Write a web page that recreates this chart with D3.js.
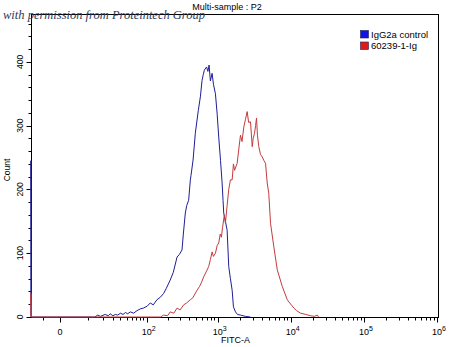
<!DOCTYPE html>
<html>
<head>
<meta charset="utf-8">
<script src="https://cdn.jsdelivr.net/npm/d3@7"></script>
<style>
  body { margin: 0; background: #fff; }
  text { font-family: "Liberation Sans", Arial, sans-serif; fill: #000; }
</style>
</head>
<body>
<div class="canvas"></div>
<script>
const w = 450;
const h = 347;
const margin = {top: 14, bottom: 30, left: 31, right: 12};

// FITC-A intensity vs count
const controlHist = [[-10.5,0],[-10.5,245],[-10.2,0],[14,0],[16,3],[18,1],[22,4],[25,2],[27,5],[30,2],[33,4],[36,3],
  [40,6],[44,4],[48,7],[52,5],[57,8],[64,6],[70,9],[75,11],[82,13],[90,14],[102,17],[113,22],[125,19],[141,27],
  [158,31],[176,37],[192,45],[218,58],[241,70],[272,94],[293,98],[319,105],[333,130],[355,163],[372,175],[395,183],
  [417,215],[426,222],[455,246],[489,288],[538,324],[574,345],[606,371],[630,380],[652,387],[700,392],[730,385],
  [758,395],[790,370],[834,382],[870,365],[927,350],[980,318],[1029,282],[1090,245],[1146,210],[1180,183],[1206,163],
  [1272,150],[1343,136],[1413,79],[1491,60],[1574,42],[1640,16],[1748,8],[1863,4],[2048,3],[2400,1],[2800,0]];

const sampleHist = [[-10.5,0],[-10.5,37],[-10.2,0],[158,0],[176,3],[200,2],[218,8],[245,6],[272,14],[300,11],
  [336,19],[370,22],[417,27],[450,30],[517,42],[560,48],[600,55],[638,63],[700,72],[748,79],[790,90],[834,102],
  [870,95],[927,100],[980,112],[1029,116],[1080,130],[1120,125],[1160,140],[1230,160],[1272,147],[1343,175],
  [1413,200],[1491,215],[1574,215],[1640,240],[1700,230],[1845,241],[1950,265],[2048,285],[2150,275],[2276,298],
  [2400,310],[2530,322],[2650,305],[2810,306],[2969,267],[3060,280],[3191,288],[3300,300],[3399,312],[3500,285],
  [3655,267],[3850,255],[4069,251],[4300,245],[4514,241],[4764,210],[5000,194],[5285,147],[5869,110],[6535,74],
  [7651,48],[8965,27],[10000,20],[11044,14],[12000,10],[13636,6],[16000,4],[18697,2],[21000,1],[23130,3],[24000,0]];

const seriesNames = ["IgG2a control", "60239-1-Ig"];
const lineColors = ["#1e1e96", "#c43c3c"];
const keyColors = ["#1010e8", "#e01818"];

const yMajor = [0, 100, 200, 300, 400];
const yMinor = d3.range(0, 461, 20);
const xMajor = [0, 1e2, 1e3, 1e4, 1e5, 1e6];
const xMajorExp = [null, 2, 3, 4, 5, 6];
const xMinor = [-5, 10, 20, 30, 40, 50, 60, 70, 80, 90]
  .concat(d3.range(2, 5 + 1).flatMap(k => d3.range(2, 10).map(m => m * Math.pow(10, k))));

const svg = d3.select(".canvas")
  .append("svg")
  .attr("width", w)
  .attr("height", h);

const x = d3.scaleSymlog()
  .constant(7)
  .domain([0, 1e6])
  .range([60, 437]);

const y = d3.scaleLinear()
  .domain([0, 475])
  .range([h - margin.bottom, margin.top]);

const pLeft = margin.left, pRight = w - margin.right, pTop = margin.top, pBottom = h - margin.bottom;

// frame
svg.append("rect")
  .attr("x", pLeft + 0.5)
  .attr("y", pTop + 0.5)
  .attr("width", pRight - pLeft)
  .attr("height", pBottom - pTop)
  .attr("fill", "none")
  .attr("stroke", "#000");

// y ticks
svg.selectAll(".ytick")
  .data(yMinor)
  .enter().append("line")
  .attr("x1", d => pLeft + 0.5 - (yMajor.includes(d) ? 5 : 3))
  .attr("x2", pLeft + 0.5)
  .attr("y1", d => Math.round(y(d)) + 0.5)
  .attr("y2", d => Math.round(y(d)) + 0.5)
  .attr("stroke", "#000");

svg.selectAll(".ylabel")
  .data(yMajor)
  .enter().append("text")
  .attr("transform", d => "translate(23," + y(d) + ") rotate(-90)")
  .attr("text-anchor", "middle")
  .style("font-size", "8.5px")
  .text(d => d);

// x ticks
svg.selectAll(".xminor")
  .data(xMinor)
  .enter().append("line")
  .attr("x1", d => Math.round(x(d)) + 0.5)
  .attr("x2", d => Math.round(x(d)) + 0.5)
  .attr("y1", pBottom + 0.5)
  .attr("y2", pBottom + 3.5)
  .attr("stroke", "#000");

svg.selectAll(".xmajor")
  .data(xMajor)
  .enter().append("line")
  .attr("x1", d => Math.round(x(d)) + 0.5)
  .attr("x2", d => Math.round(x(d)) + 0.5)
  .attr("y1", pBottom + 0.5)
  .attr("y2", pBottom + 5.5)
  .attr("stroke", "#000");

const xl = svg.selectAll(".xlabel")
  .data(xMajor)
  .enter().append("text")
  .attr("x", d => x(d) + (d === 0 ? 0 : 2))
  .attr("y", 335)
  .attr("text-anchor", "middle")
  .style("font-size", "9px");

xl.append("tspan").text(d => d === 0 ? "0" : "10");
xl.append("tspan")
  .attr("dy", -4)
  .style("font-size", "7px")
  .text((d, i) => xMajorExp[i] === null ? "" : xMajorExp[i]);

// histograms
const line = d3.line()
  .x(d => x(d[0]))
  .y(d => y(d[1]));

svg.selectAll(".hist")
  .data([controlHist, sampleHist])
  .enter().append("path")
  .attr("d", line)
  .attr("fill", "none")
  .attr("stroke", (d, i) => lineColors[i])
  .attr("stroke-width", 1);

// titles
svg.append("text")
  .attr("x", 227)
  .attr("y", 10)
  .attr("text-anchor", "middle")
  .style("font-size", "9px")
  .text("Multi-sample : P2");

svg.append("text")
  .attr("x", 221)
  .attr("y", 343)
  .style("font-size", "9px")
  .text("FITC-A");

svg.append("text")
  .attr("transform", "translate(9.5,170) rotate(-90)")
  .attr("text-anchor", "middle")
  .style("font-size", "8.5px")
  .text("Count");

// legend
const legend = svg.append("g")
  .attr("transform", "translate(360,30)");

const items = legend.selectAll("g")
  .data(seriesNames)
  .enter().append("g")
  .attr("transform", (d, i) => "translate(0," + (i * 11.5) + ")");

items.append("rect")
  .attr("x", 0.5)
  .attr("y", 0.5)
  .attr("width", 8)
  .attr("height", 7.5)
  .attr("fill", (d, i) => keyColors[i])
  .attr("stroke", "#202050")
  .attr("stroke-width", 0.6);

items.append("text")
  .attr("x", 11)
  .attr("y", 7.8)
  .style("font-size", "9.5px")
  .text(d => d);

// watermark
svg.append("text")
  .attr("x", 3)
  .attr("y", 19)
  .attr("textLength", 202)
  .attr("lengthAdjust", "spacingAndGlyphs")
  .style("font-family", "'Liberation Serif', serif")
  .style("font-style", "italic")
  .style("font-size", "13px")
  .style("fill", "#2d3b5c")
  .text("with permission from Proteintech Group");
</script>
</body>
</html>
